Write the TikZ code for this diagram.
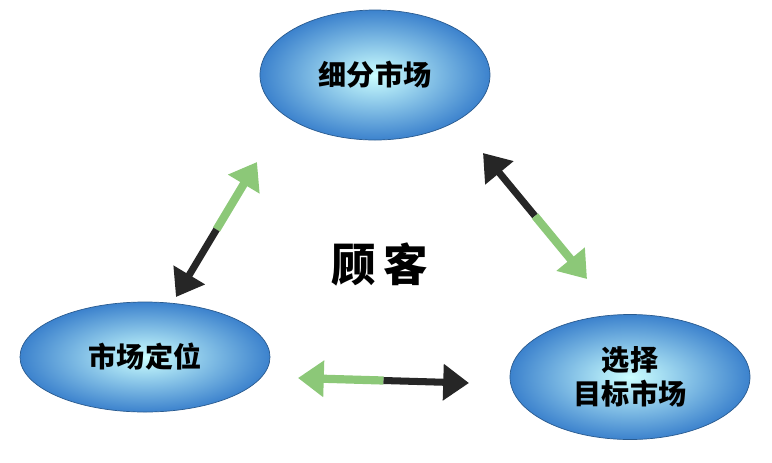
\documentclass[tikz,border=0pt]{standalone}
\usepackage{fontspec}
\newfontfamily\cjk{Noto Sans CJK SC}
\usetikzlibrary{arrows.meta, shapes.geometric, calc}
\definecolor{ellblue}{RGB}{60,130,205}
\definecolor{arrgreen}{RGB}{140,200,120}
\tikzset{
  market/.style={ellipse, draw=ellblue!70!black, line width=0.6pt,
    inner color=white!80!cyan, outer color=ellblue,
    font=\cjk\bfseries\fontsize{24}{29}\selectfont, align=center},
  greenhalf/.style={draw=arrgreen, line width=7pt,
    -{Triangle[length=22pt, width=30pt, fill=arrgreen]}},
  blackhalf/.style={draw=black!85, line width=6pt,
    -{Triangle[length=22pt, width=30pt, fill=black!85]}}
}
\begin{document}
\begin{tikzpicture}[x=0.03cm, y=-0.03cm]
  \useasboundingbox (0,0) rectangle (772,462);

  \node[market, minimum width=6.9cm, minimum height=3.9cm] (seg) at (375,75) {细分市场};
  \node[market, minimum width=7.5cm, minimum height=3.3cm] (pos) at (145,357) {市场定位};
  \node[market, minimum width=7.2cm, minimum height=3.75cm] (tgt) at (630,377) {选择\\目标市场};

  \node[font=\cjk\bfseries\fontsize{38}{42}\selectfont] (cust) at (380,265) {顾\,客};

  %% left arrow
  \coordinate (l1) at (257,162);
  \coordinate (l2) at (176,297);
  \coordinate (lm) at ($(l1)!0.5!(l2)$);
  \draw[greenhalf] (lm) -- (l1);
  \draw[blackhalf] (lm) -- (l2);

  %% right arrow
  \coordinate (r1) at (483,153);
  \coordinate (r2) at (587,279);
  \coordinate (rm) at ($(r1)!0.5!(r2)$);
  \draw[blackhalf] (rm) -- (r1);
  \draw[greenhalf] (rm) -- (r2);

  %% bottom arrow
  \coordinate (b1) at (298,378);
  \coordinate (b2) at (469,383);
  \coordinate (bm) at ($(b1)!0.5!(b2)$);
  \draw[greenhalf] (bm) -- (b1);
  \draw[blackhalf] (bm) -- (b2);
\end{tikzpicture}
\end{document}
